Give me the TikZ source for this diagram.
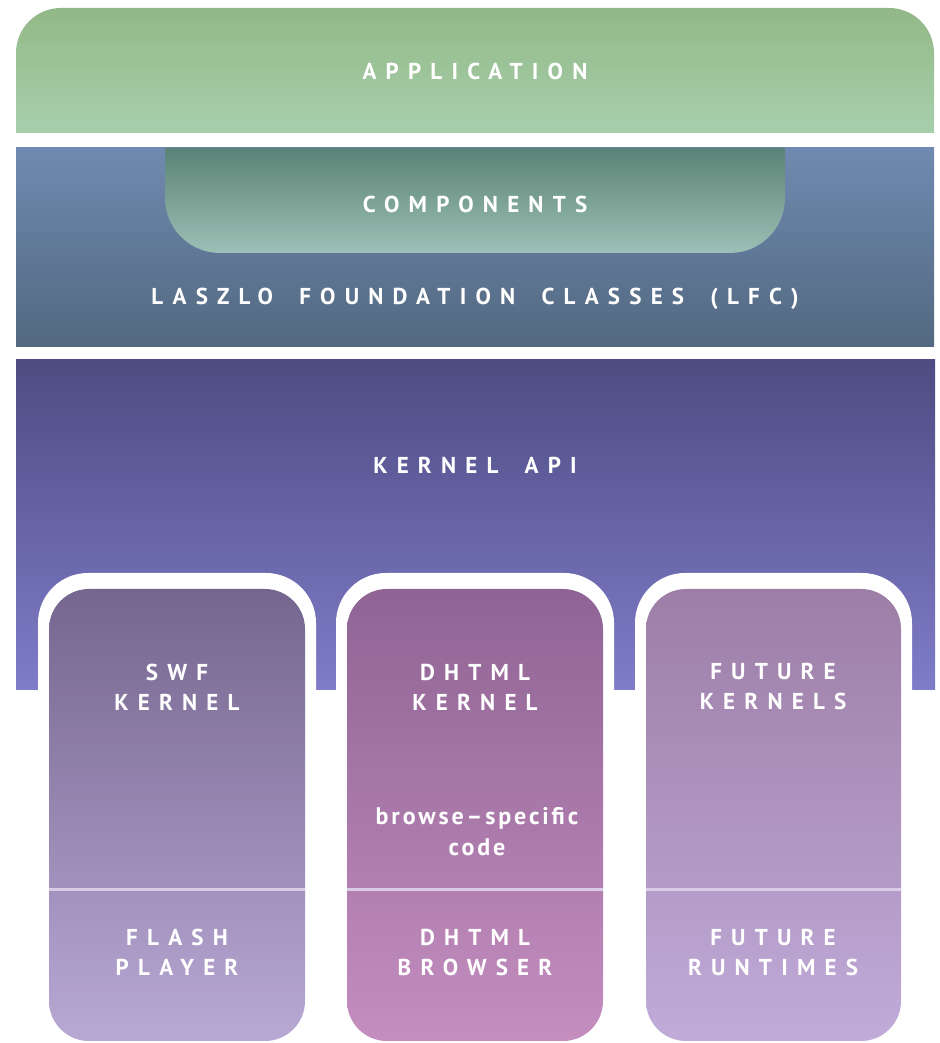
\documentclass[tikz,border=0pt]{standalone}
\usepackage{fontspec}
\newfontfamily\lblfont{PT Sans}[LetterSpace=40,WordSpace=1.75]
\newfontfamily\codefont{PT Sans}[LetterSpace=12]
\definecolor{appTop}{HTML}{93B887}
\definecolor{appBot}{HTML}{A7CFAC}
\definecolor{lfcTop}{HTML}{7089B0}
\definecolor{lfcBot}{HTML}{526980}
\definecolor{compTop}{HTML}{5B8276}
\definecolor{compBot}{HTML}{9CC0B5}
\definecolor{apiTop}{HTML}{4D4C82}
\definecolor{apiBot}{HTML}{7F7CC9}
\definecolor{swfTop}{HTML}{75668F}
\definecolor{swfBot}{HTML}{B8A8D4}
\definecolor{dhTop}{HTML}{8F6494}
\definecolor{dhBot}{HTML}{C48EBF}
\definecolor{futTop}{HTML}{9D7EA6}
\definecolor{futBot}{HTML}{C0ABD9}
\definecolor{divcol}{HTML}{D9CCE6}
\begin{document}
\begin{tikzpicture}[x=1pt,y=1pt,
  lbl/.style={text=white,font=\lblfont\bfseries\fontsize{23}{30}\selectfont,align=center,inner sep=0pt},
  codelbl/.style={text=white,font=\codefont\bfseries\fontsize{24}{31}\selectfont,align=center,inner sep=0pt},
  gap/.style={fill=white,rounded corners=50pt},
  column/.style={rounded corners=40pt},
  divider/.style={draw=divcol,line width=3pt}]
\useasboundingbox (0,0) rectangle (939,1043);
\fill[white] (0,0) rectangle (939,1043);
% Application
\path[top color=appTop,bottom color=appBot] (16,910) -- (16,990) arc[start angle=180,end angle=90,radius=45] -- (889,1035) arc[start angle=90,end angle=0,radius=45] -- (934,910) -- cycle;
% LFC
\path[top color=lfcTop,bottom color=lfcBot] (16,696) rectangle (934,895);
% Components
\path[top color=compTop,bottom color=compBot] (165,895) -- (165,845) arc[start angle=180,end angle=270,radius=55] -- (730,790) arc[start angle=270,end angle=360,radius=55] -- (785,895) -- cycle;
% Kernel API
\path[top color=apiTop,bottom color=apiBot] (16,353) rectangle (935,683);
% white gaps around columns
\fill[gap] (38,0) rectangle (316,470);
\fill[gap] (336,0) rectangle (614,470);
\fill[gap] (635,0) rectangle (912,470);
% columns
\path[column,top color=swfTop,bottom color=swfBot] (49,2) rectangle (305,454);
\path[column,top color=dhTop,bottom color=dhBot] (347,2) rectangle (603,454);
\path[column,top color=futTop,bottom color=futBot] (646,2) rectangle (901,454);
\draw[divider] (49,153) -- (305,153);
\draw[divider] (347,153) -- (603,153);
\draw[divider] (646,153) -- (901,153);
% labels
\node[lbl] (app) at (475,972) {APPLICATION};
\node[lbl] (comp) at (475,839) {COMPONENTS};
\node[lbl] (lfc) at (475,744) {LASZLO FOUNDATION CLASSES (LFC)};
\node[lbl] (api) at (475,578) {KERNEL API};
\node[lbl] (swf) at (177,356) {SWF\\KERNEL};
\node[lbl] (dhk) at (475,356) {DHTML\\KERNEL};
\node[lbl] (futk) at (773,356) {FUTURE\\KERNELS};
\node[codelbl] (code) at (477,211) {browse–specific\\code};
\node[lbl] (flash) at (177,91) {FLASH\\PLAYER};
\node[lbl] (dhb) at (475,91) {DHTML\\BROWSER};
\node[lbl] (futr) at (773,91) {FUTURE\\RUNTIMES};
\end{tikzpicture}
\end{document}
